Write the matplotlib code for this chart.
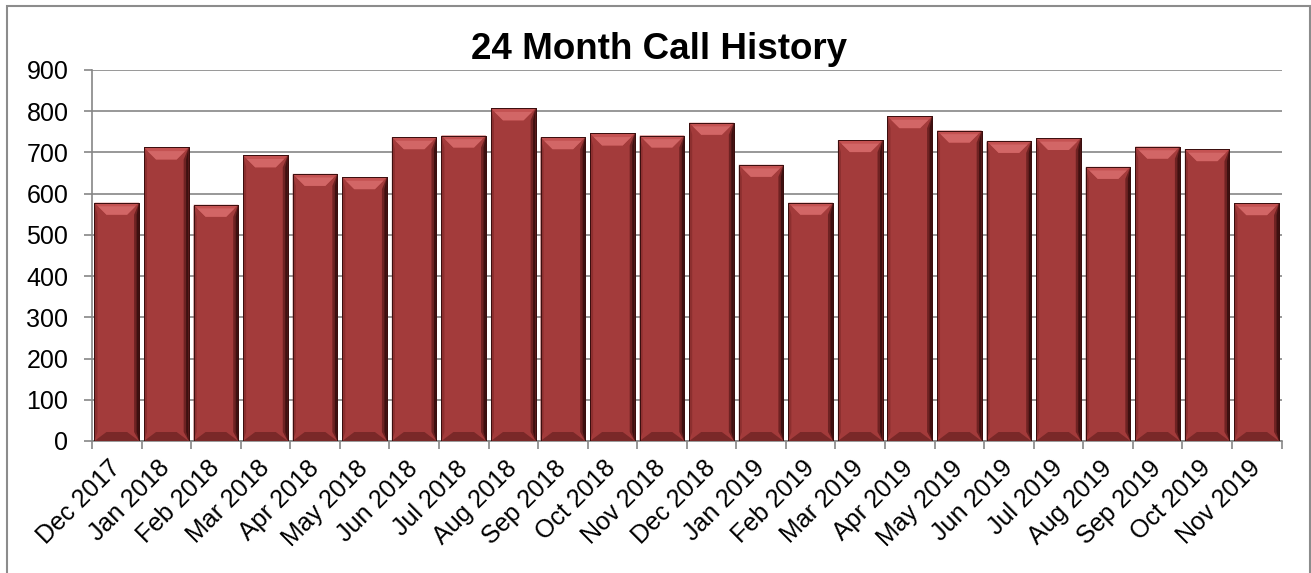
import numpy as np
import matplotlib
matplotlib.use("Agg")
import matplotlib.pyplot as plt
import matplotlib.patches as mpatches

plt.rcParams['font.family'] = ['Liberation Sans', 'DejaVu Sans']

months = ['Dec 2017', 'Jan 2018', 'Feb 2018', 'Mar 2018', 'Apr 2018', 'May 2018',
          'Jun 2018', 'Jul 2018', 'Aug 2018', 'Sep 2018', 'Oct 2018', 'Nov 2018',
          'Dec 2018', 'Jan 2019', 'Feb 2019', 'Mar 2019', 'Apr 2019', 'May 2019',
          'Jun 2019', 'Jul 2019', 'Aug 2019', 'Sep 2019', 'Oct 2019', 'Nov 2019']
calls = [578, 712, 573, 693, 648, 640, 737, 741, 807, 737, 746, 741,
         772, 670, 578, 730, 788, 753, 728, 735, 665, 714, 708, 577]
yticks = list(range(0, 1000, 100))

W, H = 1311, 573
fig = plt.figure(figsize=(W/100, H/100), dpi=100)
ax = fig.add_axes([92/W, 1 - 441/H, (1281.5 - 92)/W, (441 - 70)/H])

x = np.arange(len(months))
bw = 0.9
bars = ax.bar(x, calls, width=bw, color='#a33b3b', edgecolor='#4a1414',
              linewidth=0.7, zorder=3)

ax.set_xlim(-0.5, len(months) - 0.5)
ax.set_ylim(0, 900)

# size of one pixel in data units, for the bevel on every bar
bbox = ax.get_position()
px = (len(months)) / (bbox.width * W)
py = 900 / (bbox.height * H)

for r in bars:
    x0 = r.get_x()
    x1 = x0 + r.get_width()
    h = r.get_height()
    b, bh = 12 * px, 12 * py
    s = 5 * px
    bb = 9 * py
    # left side
    ax.add_patch(mpatches.Polygon([(x0, h), (x0 + 3 * px, h - bh), (x0 + 3 * px, bb), (x0, 0)],
                                  closed=True, fc='#8c2f2f', ec='none', zorder=4))
    # right side, two tones
    ax.add_patch(mpatches.Polygon([(x1, h), (x1 - s, h - bh), (x1 - s, bb), (x1, 0)],
                                  closed=True, fc='#6e2222', ec='none', zorder=4))
    ax.add_patch(mpatches.Polygon([(x1, h), (x1 - 2.5 * px, h - bh), (x1 - 2.5 * px, bb), (x1, 0)],
                                  closed=True, fc='#3e1010', ec='none', zorder=4))
    # bottom bevel
    ax.add_patch(mpatches.Polygon([(x0, 0), (x1, 0), (x1 - b, bb), (x0 + b, bb)],
                                  closed=True, fc='#7a2828', ec='none', zorder=4))
    # top bevel
    ax.add_patch(mpatches.Polygon([(x0, h), (x1, h), (x1 - b, h - bh), (x0 + b, h - bh)],
                                  closed=True, fc='#c45252', ec='none', zorder=5))
    ax.add_patch(mpatches.Polygon([(x0 + 0.3 * b, h - 0.3 * bh), (x1 - 0.3 * b, h - 0.3 * bh),
                                   (x1 - b, h - bh), (x0 + b, h - bh)],
                                  closed=True, fc='#d26666', ec='none', zorder=5))
    ax.add_patch(mpatches.Rectangle((x0, 0), x1 - x0, h, fc='none', ec='#3a0e0e',
                                    lw=0.7, zorder=6))

grid_c = '#868686'
ax.set_yticks(yticks)
ax.set_yticklabels([str(v) for v in yticks], fontsize=18)
ax.yaxis.grid(True, color=grid_c, linewidth=1.2, zorder=0)
ax.set_axisbelow(True)

ax.set_xticks(x)
ax.set_xticklabels(months, rotation=45, ha='right', va='center',
                   rotation_mode='anchor', fontsize=18)
ax.set_xticks(np.arange(-0.5, len(months)), minor=True)
ax.tick_params(axis='x', which='major', length=0, pad=17)
ax.tick_params(axis='x', which='minor', length=6, width=1.2, color=grid_c)
ax.tick_params(axis='y', length=6, width=1.2, color=grid_c, pad=11)

for side in ['top', 'right']:
    ax.spines[side].set_visible(False)
for side in ['left', 'bottom']:
    ax.spines[side].set_color(grid_c)
    ax.spines[side].set_linewidth(1.2)

fig.text(659 / W, 1 - 59 / H, '24 Month Call History', ha='center', va='baseline',
         fontsize=26.5, fontweight='bold')

frame = mpatches.Rectangle((7 / W, -0.02), (1310 - 7) / W, 1 - 6 / H + 0.02,
                           transform=fig.transFigure, fill=False, ec='#8c8c8c',
                           lw=1.5, zorder=10)
fig.patches.append(frame)

fig.savefig('out.png', dpi=100)
